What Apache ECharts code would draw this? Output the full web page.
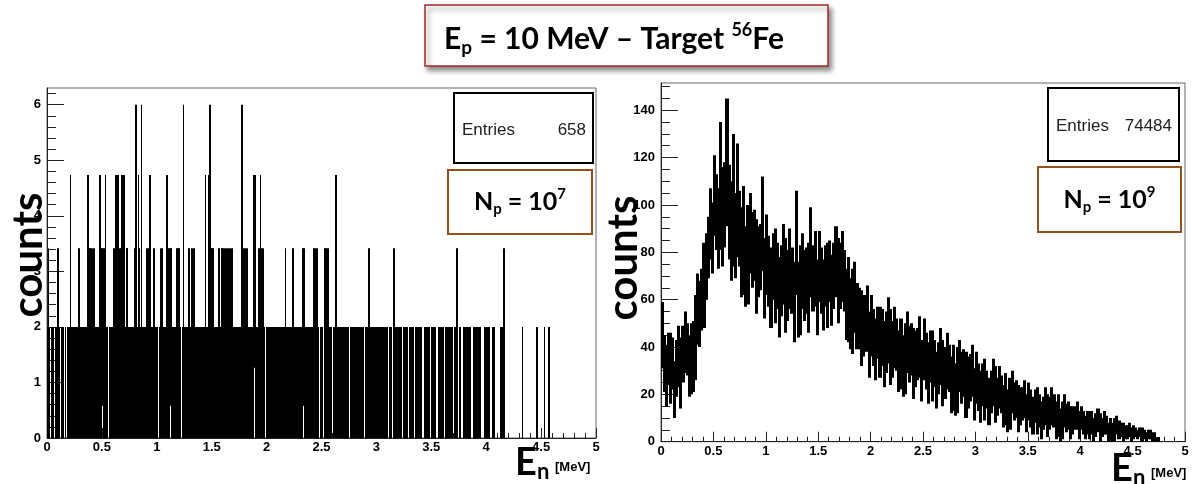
<!DOCTYPE html>
<html>
<head>
<meta charset="utf-8">
<script src="https://cdn.jsdelivr.net/npm/echarts@6/dist/echarts.min.js"></script>
<style>
  html, body { margin: 0; padding: 0; background: #fff; }
  #chart { width: 1194px; height: 484px; }
</style>
</head>
<body>
<div id="chart"></div>
<script>
// left histogram, Np = 1e7 : counts per 0.005 MeV bin, 0 .. 5 MeV (one row = 0.25 MeV)
const leftCounts = [
  1,1,2,1,1,0,0,0,1,1, 1,1,0,0,0,1,1,1,1,1, 2,1,1,0,0,0,1,1,1,1, 0,0,0,1,0,0,0,1,1,1, 1,1,3,1,1,1,1,1,1,1,
  1,1,1,0,0,0,1,1,2,1, 1,1,1,1,1,1,1,1,1,1, 1,1,1,1,3,1,2,1,2,1, 2,1,2,1,2,1,2,1,1,1, 1,1,1,1,1,1,3,1,2,1,
  2,2,2,1,2,1,3,1,1,1, 0,0,0,1,1,1,1,1,1,1, 1,1,2,1,3,1,3,1,3,1, 3,1,2,1,2,1,3,1,1,1, 3,1,1,1,2,2,2,1,1,1,
  1,1,1,1,1,1,1,1,1,1, 2,1,4,1,1,1,3,1,2,1, 1,1,4,1,1,1,1,1,1,1, 1,1,2,1,2,1,3,3,3,1, 1,1,1,1,2,1,1,0,0,0,
  1,1,0,0,0,1,2,1,2,1, 2,1,1,1,1,1,1,1,3,1, 1,1,2,1,2,2,2,1,1,1, 1,1,1,1,1,1,2,1,2,1, 2,1,1,0,0,0,1,1,4,1,
  1,1,1,1,1,1,1,1,2,1, 1,1,1,1,2,1,2,1,2,1, 1,1,1,1,1,1,1,1,1,1, 1,1,1,1,1,1,1,1,3,1, 1,1,1,1,3,1,4,1,2,1,
  2,1,2,1,1,1,1,1,1,1, 1,1,2,1,2,1,1,2,2,2, 1,2,1,2,1,1,2,1,2,1, 2,1,2,1,1,2,1,2,1,1, 1,1,1,1,1,1,1,1,1,1,
  0,0,0,1,1,4,1,2,1,2, 1,2,1,2,1,2,1,1,1,1, 1,1,1,1,1,1,1,3,3,3, 1,1,1,1,1,1,2,1,3,1, 2,1,2,1,2,1,1,0,0,0,
  1,1,1,1,1,1,1,1,1,1, 1,1,1,1,1,1,1,1,1,1, 1,1,1,1,1,1,1,1,1,1, 1,1,1,1,2,1,1,1,1,1, 1,1,1,1,1,1,1,1,2,1,
  1,1,1,1,1,1,1,1,1,1, 1,1,1,1,1,1,2,2,2,1, 1,1,1,1,1,1,1,1,1,1, 1,1,1,1,1,1,2,1,2,1, 2,1,2,1,0,0,0,0,0,1,
  1,1,0,0,0,1,2,1,2,1, 2,1,2,1,1,1,1,1,0,0, 0,1,1,1,1,1,3,1,1,1, 1,1,1,1,0,0,0,1,1,1, 1,1,1,1,1,1,1,1,1,1,
  0,0,0,1,1,1,1,1,1,1, 1,1,1,1,1,1,1,1,1,1, 1,1,0,0,0,1,1,0,0,0, 1,1,1,1,1,1,2,1,1,1, 1,1,1,1,1,1,0,0,0,1,
  1,1,1,1,1,1,1,0,0,0, 1,1,1,1,1,1,1,1,1,1, 0,0,0,1,1,1,1,1,0,0, 0,1,2,1,1,1,0,0,0,1, 1,1,1,1,1,1,0,0,0,1,
  1,1,1,1,1,1,1,0,0,0, 1,1,1,1,1,1,1,1,0,0, 0,0,1,1,1,1,1,1,1,1, 1,1,0,0,0,0,0,0,1,1, 1,1,1,1,1,1,0,0,0,0,
  1,1,1,1,1,1,1,1,0,0, 0,0,0,0,1,1,1,1,1,1, 1,1,0,0,0,0,1,1,1,1, 1,1,1,1,1,1,1,1,0,0, 0,0,1,1,1,1,2,1,0,0,
  0,1,1,1,0,0,0,0,1,1, 1,1,1,1,1,1,1,1,1,1, 1,1,0,0,0,0,1,1,1,1, 1,1,0,0,0,1,1,1,1,1, 0,0,0,0,0,0,1,1,1,1,
  1,1,1,1,1,1,0,0,0,0, 0,0,1,1,1,1,0,0,0,0, 0,0,0,0,0,0,1,1,1,1, 1,1,2,1,0,0,0,0,0,0, 0,0,0,0,0,0,0,0,0,0,
  0,0,0,0,0,0,0,0,0,0, 0,0,0,0,0,0,1,0,0,0, 0,0,0,0,0,0,0,0,0,0, 0,0,0,0,0,0,0,0,0,0, 0,0,1,0,0,0,0,0,0,0,
  0,0,0,0,0,0,1,0,0,0, 0,0,0,0,1,0,0,0,0,0, 0,0,0,0,0,0,0,0,0,0, 0,0,0,0,0,0,0,0,0,0, 0,0,0,0,0,0,0,0,0,0,
  0,0,0,0,0,0,0,0,0,0, 0,0,0,0,0,0,0,0,0,0, 0,0,0,0,0,0,0,0,0,0, 0,0,0,0,0,0,0,0,0,0, 0,0,0,0,0,0,0,0,0,0
];
// right histogram, Np = 1e9 : value and error bar half-height per 0.02 MeV bin (one row = 0.5 MeV)
const rightCounts = [
  45,33,28,35,31, 33,22,31,36,29, 37,42,39,32,35, 36,44,56,54,60, 66,74,82,92,86,
  104,97,90,108,95, 100,118,97,89,102, 87,102,90,80,85, 74,79,88,81,83, 74,76,78,92,69,
  79,72,65,74,70, 70,61,68,75,66, 66,73,68,59,84, 60,64,72,66,68, 65,80,69,73,61,
  74,68,62,70,66, 72,64,70,76,68, 70,74,68,58,60, 54,55,61,53,52, 48,49,50,52,41,
  49,44,39,46,42, 44,37,42,47,40, 39,44,41,34,37, 32,35,42,37,39, 33,35,37,40,30,
  39,34,29,36,32, 33,26,31,36,29, 29,34,31,24,27, 22,26,32,27,29, 24,25,27,30,20,
  27,23,19,24,22, 22,17,21,25,20, 19,23,20,15,18, 13,16,21,17,18, 14,15,16,18,12,
  17,14,11,15,13, 13,9,12,15,11, 12,15,13,9,11, 7,9,13,10,11, 8,9,10,11,7,
  10,8,6,8,7, 8,5,7,9,6, 6,8,7,4,5, 4,5,7,5,5, 4,4,4,5,3,
  4,4,3,4,3, 3,2,3,3,2, 2,1,1,0,0, 0,0,0,0,0, 0,0,0,0,0
];
const rightErrors = [
  14,12,13,11,15, 11,12,12,13,15, 12,13,11,13,15, 15,18,15,14,13, 18,14,13,15,15,
  17,16,17,27,21, 18,27,20,21,28, 18,24,16,19,23, 17,21,17,16,15, 20,15,14,20,17,
  17,15,17,14,20, 14,17,15,17,20, 15,17,14,17,22, 16,19,16,15,14, 19,19,14,16,16,
  15,14,15,13,18, 13,15,14,15,18, 14,15,13,15,18, 15,18,15,14,13, 16,13,12,14,14,
  13,12,13,11,15, 12,14,13,14,16, 12,13,11,13,15, 13,15,13,12,11, 15,12,11,13,13,
  13,12,13,11,15, 10,12,11,12,14, 11,12,10,12,14, 11,14,11,11,10, 14,11,10,11,11,
  11,10,11,9,13, 8,10,9,10,12, 8,9,8,9,11, 9,11,9,8,8, 10,8,7,8,8,
  8,8,8,7,10, 7,8,7,8,9, 7,8,7,8,9, 7,8,7,6,6, 7,6,5,6,6,
  5,5,5,5,6, 5,5,5,5,6, 4,5,4,4,5, 4,5,4,4,3, 4,3,3,3,3,
  3,2,2,2,3, 2,2,2,2,2, 2,1,1,0,0, 0,0,0,0,0, 0,0,0,0,0
];
const leftBin = 0.005;
const rightBin = 0.02;

const leftYTicks = [0, 1, 2, 3, 4, 5, 6];
const rightYTicks = [0, 20, 40, 60, 80, 100, 120, 140];
const leftEntries = '658';
const rightEntries = '74484';

const leftYMinor = [];
for (let v = 0; v <= 6.2 + 1e-9; v += 0.2) leftYMinor.push(+v.toFixed(1));
const rightYMinor = [];
for (let v = 0; v <= 150; v += 5) rightYMinor.push(v);

// left: Poisson error sqrt(n); right: error
const leftData = leftCounts.map((n, i) => [+(i * leftBin).toFixed(4), n, Math.sqrt(n)]);
const rightData = rightCounts.map((n, i) => [+(i * rightBin).toFixed(3), n, rightErrors[i]]);

// ROOT style error bars from n - e to n + e; each bin fills every pixel column it touches
function errorBars(binW) {
  return function (params, api) {
    const x0 = api.value(0);
    const n = api.value(1);
    const e = api.value(2);
    if (!n) return null;
    const p0 = api.coord([x0, n + e]);
    const p1 = api.coord([x0 + binW, Math.max(0, n - e)]);
    const xa = Math.floor(p0[0] + 1e-6);
    const xb = Math.max(xa + 1, Math.ceil(p1[0] - 1e-6));
    return {
      type: 'rect',
      shape: { x: xa, y: p0[1], width: xb - xa, height: p1[1] - p0[1] },
      style: { fill: '#000' }
    };
  };
}

const labelFont = { color: '#000', fontFamily: 'Liberation Sans', fontWeight: 'bold', fontSize: 13 };

function xAxisCfg(grid) {
  return {
    gridIndex: grid, type: 'value', min: 0, max: 5, interval: 0.5,
    axisLine: { lineStyle: { color: '#222', width: 1 } },
    axisTick: { inside: true, length: 10, lineStyle: { color: '#222' } },
    minorTick: { show: true, splitNumber: 5, length: 5, lineStyle: { color: '#222' } },
    axisLabel: Object.assign({ margin: 3 }, labelFont),
    splitLine: { show: false }
  };
}
function yMajor(grid, max, ticks) {
  return {
    gridIndex: grid, type: 'value', position: 'left', min: 0, max: max,
    axisLine: { show: true, lineStyle: { color: '#222', width: 1 } },
    axisTick: { inside: true, length: 17, customValues: ticks, lineStyle: { color: '#222' } },
    axisLabel: Object.assign({ margin: 6, customValues: ticks }, labelFont),
    splitLine: { show: false }
  };
}
function yMinor(grid, max, ticks) {
  return {
    gridIndex: grid, type: 'value', position: 'left', min: 0, max: max,
    axisLine: { show: false },
    axisTick: { inside: true, length: 9, customValues: ticks, lineStyle: { color: '#222' } },
    axisLabel: { show: false },
    splitLine: { show: false }
  };
}

const calibri = 'Lato';
const titleRich = {
  b: { fontFamily: calibri, fontWeight: 'bold', fontSize: 30, lineHeight: 36, color: '#000' },
  s: { fontFamily: calibri, fontWeight: 'bold', fontSize: 19, lineHeight: 19, verticalAlign: 'bottom', color: '#000' },
  u: { fontFamily: calibri, fontWeight: 'bold', fontSize: 18, lineHeight: 18, verticalAlign: 'top', color: '#000' }
};
const npRich = {
  b: { fontFamily: calibri, fontWeight: 'bold', fontSize: 25, lineHeight: 30, color: '#000' },
  s: { fontFamily: calibri, fontWeight: 'bold', fontSize: 15, lineHeight: 15, verticalAlign: 'bottom', color: '#000' },
  u: { fontFamily: calibri, fontWeight: 'bold', fontSize: 15, lineHeight: 15, verticalAlign: 'top', color: '#000' }
};

function statsBox(x, y, w, h, entries) {
  return [
    { type: 'rect', shape: { x: x, y: y, width: w, height: h }, style: { fill: '#fff', stroke: '#000', lineWidth: 2 }, z: 10 },
    { type: 'text', x: x + 8, y: y + h / 2 + 2, z: 11,
      style: { text: 'Entries', fill: '#222', font: '17px "Liberation Sans"', align: 'left', verticalAlign: 'middle' } },
    { type: 'text', x: x + w - 7, y: y + h / 2 + 2, z: 11,
      style: { text: entries, fill: '#222', font: '17px "Liberation Sans"', align: 'right', verticalAlign: 'middle' } }
  ];
}
function npBox(x, y, w, h, exp) {
  return [
    { type: 'rect', shape: { x: x, y: y, width: w, height: h }, style: { fill: '#fff', stroke: '#94501f', lineWidth: 2 }, z: 10 },
    { type: 'text', x: x + w / 2, y: y + h / 2, z: 11,
      style: { text: '{b|N}{s|p}{b| = 10}{u|' + exp + '}', rich: npRich, align: 'center', verticalAlign: 'middle' } }
  ];
}
function countsLabel(x, y) {
  return { type: 'text', x: x, y: y, rotation: Math.PI / 2, z: 12,
    style: { text: 'counts', fill: '#000', font: 'bold 42px ' + calibri, align: 'center', verticalAlign: 'middle' } };
}
function energyLabel(x, y) {
  return [
    { type: 'text', x: x, y: y, z: 12,
      style: { text: 'E', fill: '#000', font: 'bold 38px ' + calibri, align: 'left', verticalAlign: 'middle' } },
    { type: 'text', x: x + 22, y: y + 9, z: 12,
      style: { text: 'n', fill: '#000', font: 'bold 22px ' + calibri, align: 'left', verticalAlign: 'middle' } },
    { type: 'text', x: x + 40, y: y + 4, z: 12,
      style: { text: '[MeV]', fill: '#000', font: 'bold 13px "Liberation Sans"', align: 'left', verticalAlign: 'middle' } }
  ];
}

const chart = echarts.init(document.getElementById('chart'));
chart.setOption({
  backgroundColor: '#fff',
  animation: false,
  grid: [
    { left: 47, top: 88, width: 549, height: 350, show: true, borderColor: '#666', borderWidth: 1, backgroundColor: 'transparent' },
    { left: 661, top: 83, width: 524, height: 358.7, show: true, borderColor: '#666', borderWidth: 1, backgroundColor: 'transparent' }
  ],
  xAxis: [xAxisCfg(0), xAxisCfg(1)],
  yAxis: [
    yMajor(0, 6.3, leftYTicks),
    yMinor(0, 6.3, leftYMinor),
    yMajor(1, 151.5, rightYTicks),
    yMinor(1, 151.5, rightYMinor)
  ],
  series: [
    { type: 'custom', name: 'Np 1e7', xAxisIndex: 0, yAxisIndex: 0, data: leftData,
      encode: { x: 0, y: 1 }, renderItem: errorBars(leftBin), clip: true },
    { type: 'custom', name: 'Np 1e9', xAxisIndex: 1, yAxisIndex: 2, data: rightData,
      encode: { x: 0, y: 1 }, renderItem: errorBars(rightBin), clip: true }
  ],
  graphic: [
    { type: 'rect', shape: { x: 425, y: 5, width: 403, height: 61 },
      style: { fill: '#fff', stroke: '#a02a2e', lineWidth: 1.5, shadowBlur: 5, shadowOffsetX: 3, shadowOffsetY: 4, shadowColor: 'rgba(0,0,0,0.45)' }, z: 10 },
    { type: 'text', x: 614, y: 39, z: 11,
      style: { text: '{b|E}{s|p}{b| = 10 MeV – Target }{u|56}{b|Fe}', rich: titleRich, align: 'center', verticalAlign: 'middle' } },
    ...statsBox(454, 93, 139, 70, leftEntries),
    ...npBox(448, 170, 144, 64, '7'),
    ...statsBox(1048, 88, 131, 73, rightEntries),
    ...npBox(1038, 167, 143, 65, '9'),
    countsLabel(28, 255),
    countsLabel(623, 258),
    ...energyLabel(515, 463),
    ...energyLabel(1111, 469)
  ]
});
</script>
</body>
</html>
